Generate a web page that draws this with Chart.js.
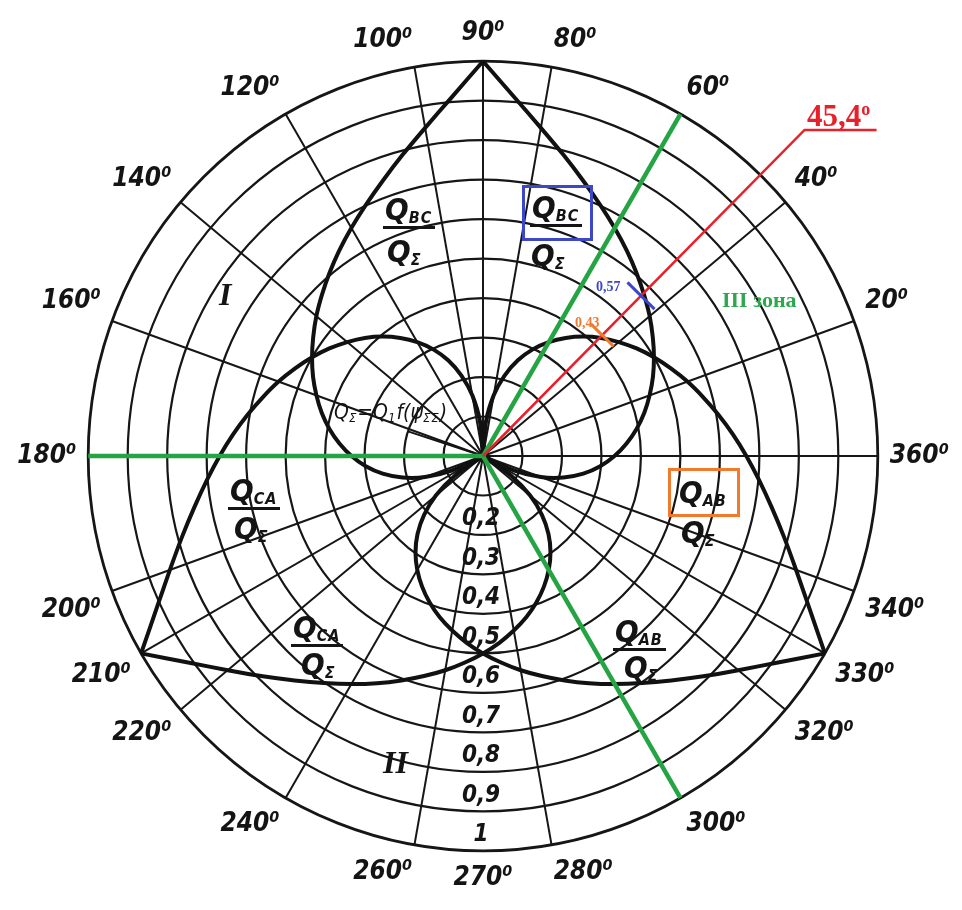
<!DOCTYPE html>
<html>
<head>
<meta charset="utf-8">
<script src="https://cdn.jsdelivr.net/npm/chart.js@4.4.1/dist/chart.umd.min.js"></script>
<style>
  body { margin: 0; background: #fff; }
  #wrap { position: relative; width: 962px; height: 910px; }
  #wrap canvas { position: absolute; left: 0; top: 0; }
  .t { position: absolute; font-family: 'DejaVu Sans Condensed', 'DejaVu Sans', sans-serif; font-style: italic;
       font-weight: bold; font-size: 31px; line-height: 32px; color: #141414; white-space: nowrap; }
  .t sub { font-size: 16px; line-height: 0; vertical-align: -3px; letter-spacing: 1px; }
  .bar { border-bottom: 3px solid #141414; padding: 0 3px 1px 2px; }
  .box { position: absolute; box-sizing: border-box; border: 3.5px solid; }
  .rn { position: absolute; font-family: 'Liberation Serif', serif; font-style: italic; font-weight: bold;
        font-size: 32px; line-height: 32px; color: #141414; }
  .mark { position: absolute; font-family: 'Liberation Serif', serif; font-weight: bold; white-space: nowrap; }
</style>
</head>
<body>
<div id="wrap">
  <canvas id="chart" width="962" height="910"></canvas>

  <!-- ratio captions -->
  <div class="t bar" style="left:383px;top:193px">Q<sub>BC</sub></div>
  <div class="t" style="left:387px;top:235px">Q<sub>Σ</sub></div>

  <div class="box" style="left:522px;top:185px;width:71px;height:56px;border-color:#3d48c6"></div>
  <div class="t bar" style="left:530px;top:191px">Q<sub>BC</sub></div>
  <div class="t" style="left:531px;top:239px">Q<sub>Σ</sub></div>

  <div class="t bar" style="left:228px;top:474px">Q<sub>CA</sub></div>
  <div class="t" style="left:234px;top:512px">Q<sub>Σ</sub></div>

  <div class="t bar" style="left:291px;top:611px">Q<sub>CA</sub></div>
  <div class="t" style="left:301px;top:648px">Q<sub>Σ</sub></div>

  <div class="box" style="left:668px;top:468px;width:72px;height:49px;border-color:#f27a2c"></div>
  <div class="t" style="left:679px;top:476px">Q<sub>AB</sub></div>
  <div class="t" style="left:681px;top:516px">Q<sub>Σ</sub></div>

  <div class="t bar" style="left:613px;top:615px">Q<sub>AB</sub></div>
  <div class="t" style="left:624px;top:651px">Q<sub>Σ</sub></div>

  <div class="t" style="left:334px;top:396px;font-size:21px;font-weight:normal">Q<sub style="font-size:13px">Σ</sub>=Q<sub style="font-size:13px">1</sub>f(ψ<sub style="font-size:13px">ΣΣ</sub>)</div>

  <div class="rn" style="left:219px;top:278px">I</div>
  <div class="rn" style="left:383px;top:746px">II</div>

  <!-- coloured notes -->
  <div class="mark" style="left:722px;top:287px;font-size:22px;color:#2ea84f">III зона</div>
  <div class="mark" style="left:807px;top:98px;font-size:31px;color:#e8202a">45,4<sup style="font-size:18px">o</sup></div>
  <div class="mark" style="left:596px;top:279px;font-size:14px;color:#3d48c6">0,57</div>
  <div class="mark" style="left:575px;top:315px;font-size:14px;color:#f27a2c">0,43</div>
</div>

<script>
// Polar grid: angles are counted counter-clockwise from 0° (right)
const STEP = 5;
const labeledAngles = [0, 20, 40, 60, 80, 90, 100, 120, 140, 160, 180, 200, 210, 220, 240, 260, 270, 280, 300, 320, 330, 340];
const spokeAngles = [0, 20, 40, 60, 80, 90, 100, 120, 140, 160, 180, 200, 210, 220, 240, 260, 280, 300, 320, 330, 340];
const ringValues = [0.2, 0.3, 0.4, 0.5, 0.6, 0.7, 0.8, 0.9, 1.0];
const ringLabels = ['0,2', '0,3', '0,4', '0,5', '0,6', '0,7', '0,8', '0,9', '1'];

// Load-share curves, r read every 5° from the zero end to the vertex end
const qabUpper  = [0, 0.088, 0.156, 0.211, 0.258, 0.298, 0.333, 0.365, 0.395, 0.423, 0.449, 0.475, 0.5, 0.525, 0.551, 0.577, 0.605, 0.635, 0.667, 0.702, 0.742, 0.789, 0.844, 0.912, 1];
const qbcRight  = [0, 0.088, 0.156, 0.211, 0.258, 0.298, 0.333, 0.365, 0.395, 0.423, 0.449, 0.475, 0.5, 0.525, 0.551, 0.577, 0.605, 0.635, 0.667, 0.702, 0.742, 0.789, 0.844, 0.912, 1];
const qbcLeft   = [0, 0.088, 0.156, 0.211, 0.258, 0.298, 0.333, 0.365, 0.395, 0.423, 0.449, 0.475, 0.5, 0.525, 0.551, 0.577, 0.605, 0.635, 0.667, 0.702, 0.742, 0.789, 0.844, 0.912, 1];
const qcaUpper  = [0, 0.088, 0.156, 0.211, 0.258, 0.298, 0.333, 0.365, 0.395, 0.423, 0.449, 0.475, 0.5, 0.525, 0.551, 0.577, 0.605, 0.635, 0.667, 0.702, 0.742, 0.789, 0.844, 0.912, 1];
const qcaBottom = [0, 0.088, 0.156, 0.211, 0.258, 0.298, 0.333, 0.365, 0.395, 0.423, 0.449, 0.475, 0.5, 0.525, 0.551, 0.577, 0.605, 0.635, 0.667, 0.702, 0.742, 0.789, 0.844, 0.912, 1];
const qabBottom = [0, 0.088, 0.156, 0.211, 0.258, 0.298, 0.333, 0.365, 0.395, 0.423, 0.449, 0.475, 0.5, 0.525, 0.551, 0.577, 0.605, 0.635, 0.667, 0.702, 0.742, 0.789, 0.844, 0.912, 1];
const curves = [qabUpper, qbcRight, qbcLeft, qcaUpper, qcaBottom, qabBottom];
const curveStart = [90, 330, 210, 90, 330, 210];
const curveDir = [-1, 1, -1, 1, -1, 1];

// Worked example on the chart
const greenAngles = [60, 180, 300];
const cutAngle = 45.4;
const cutLength = 1.16;
const markValues = [0.57, 0.43];

// Radar labels go clockwise from the top, so index i sits at 90° - 5i
const labels = Array.from({ length: 360 / STEP }, (_, i) => ((90 - i * STEP) % 360 + 360) % 360);
const indexOf = (angle) => ((((90 - angle) / STEP) % labels.length) + labels.length) % labels.length;

const toRadar = (values, start, dir) => {
  const data = labels.map(() => null);
  values.forEach((v, j) => {
    data[Math.round(indexOf(start + dir * STEP * j))] = v;
  });
  return data;
};

const datasets = curves.map((values, k) => ({
  data: toRadar(values, curveStart[k], curveDir[k]),
  borderColor: '#111',
  borderWidth: 4,
  fill: false,
  pointRadius: 0,
  tension: 0.25,
  spanGaps: false
}));

// Extra drawing on top: ring labels, green sector lines, red cut line and marks
const extras = {
  id: 'extras',
  afterDatasetsDraw(chart) {
    const s = chart.scales.r;
    const ctx = chart.ctx;
    const pt = (angle, v) => s.getPointPosition((90 - angle) / STEP, s.getDistanceFromCenterForValue(v));
    ctx.save();

    // value labels down the 270° column
    ctx.fillStyle = '#141414';
    ctx.font = "italic bold 24px 'DejaVu Sans Condensed', 'DejaVu Sans', sans-serif";
    ctx.textAlign = 'center';
    ctx.textBaseline = 'middle';
    ringValues.forEach((v, i) => {
      const p = pt(270, v - 0.04);
      ctx.fillText(ringLabels[i], p.x - 2, p.y);
    });

    // leader line for the Q sum caption
    const lead = pt(161.8, 0.2);
    ctx.strokeStyle = '#141414';
    ctx.lineWidth = 2;
    ctx.beginPath();
    ctx.moveTo(lead.x, lead.y);
    ctx.lineTo(s.xCenter, s.yCenter);
    ctx.stroke();

    // green zone borders
    ctx.strokeStyle = '#25a444';
    ctx.lineWidth = 4.5;
    greenAngles.forEach((a) => {
      const p = pt(a, 1);
      ctx.beginPath();
      ctx.moveTo(s.xCenter, s.yCenter);
      ctx.lineTo(p.x, p.y);
      ctx.stroke();
    });

    // red cut line with a flat tail under its caption
    const end = pt(cutAngle, cutLength);
    ctx.strokeStyle = '#e8202a';
    ctx.lineWidth = 2.5;
    ctx.beginPath();
    ctx.moveTo(s.xCenter, s.yCenter);
    ctx.lineTo(end.x, end.y);
    ctx.lineTo(end.x + 72, end.y);
    ctx.stroke();

    // short marks where the cut crosses the two curves
    const rad = cutAngle * Math.PI / 180;
    const nx = Math.sin(rad);
    const ny = Math.cos(rad);
    const markColors = ['#3d48c6', '#f27a2c'];
    const markHalf = [19, 16];
    markValues.forEach((v, i) => {
      const c = pt(cutAngle, v);
      ctx.strokeStyle = markColors[i];
      ctx.lineWidth = 3;
      ctx.beginPath();
      ctx.moveTo(c.x - nx * markHalf[i], c.y - ny * markHalf[i]);
      ctx.lineTo(c.x + nx * markHalf[i], c.y + ny * markHalf[i]);
      ctx.stroke();
    });

    ctx.restore();
  }
};

new Chart(document.getElementById('chart'), {
  type: 'radar',
  data: { labels, datasets },
  options: {
    responsive: false,
    animation: false,
    events: [],
    layout: { padding: { top: 19, bottom: 15, left: 4, right: 0 } },
    plugins: { legend: { display: false }, tooltip: { enabled: false } },
    scales: {
      r: {
        min: 0,
        max: 1,
        startAngle: 0,
        ticks: { display: false, stepSize: 0.1 },
        grid: {
          circular: true,
          color: '#161616',
          lineWidth: (c) => (c.tick && c.tick.value > 0.99 ? 2.8 : 2.2)
        },
        angleLines: {
          color: (c) => (spokeAngles.includes(labels[c.index]) ? '#161616' : 'rgba(0,0,0,0)'),
          lineWidth: (c) => (spokeAngles.includes(labels[c.index]) ? 2 : 0)
        },
        pointLabels: {
          display: true,
          padding: 12,
          color: '#141414',
          font: { family: "'DejaVu Sans Condensed', 'DejaVu Sans', sans-serif", size: 26, style: 'italic', weight: 'bold' },
          callback: (label) => (labeledAngles.includes(label) ? (label === 0 ? '360' : String(label)) + '\u2070' : '')
        }
      }
    }
  },
  plugins: [extras]
});
</script>
</body>
</html>
